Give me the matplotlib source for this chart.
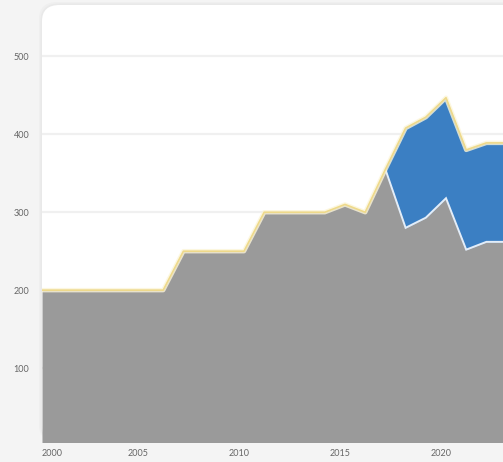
import matplotlib
matplotlib.use("Agg")
import matplotlib.pyplot as plt
import matplotlib.transforms as mtransforms
from matplotlib.patches import FancyBboxPatch
import numpy as np

# Yearly values
years = [2000, 2001, 2002, 2003, 2004, 2005, 2006, 2007, 2008, 2009, 2010, 2011,
         2012, 2013, 2014, 2015, 2016, 2017, 2018, 2019, 2020, 2021, 2022, 2023]
base = [200, 200, 200, 200, 200, 200, 200, 250, 250, 250, 250, 300,
        300, 300, 300, 310, 300, 355, 280, 293, 318, 252, 262, 262]
extra = [0, 0, 0, 0, 0, 0, 0, 0, 0, 0, 0, 0,
         0, 0, 0, 0, 0, 0, 128, 129, 129, 128, 127, 127]
y_ticks = [100, 200, 300, 400, 500]
x_ticks = [2000, 2005, 2010, 2015, 2020]

W, H = 503, 462
fig = plt.figure(figsize=(W / 100, H / 100), dpi=100)
fig.patch.set_facecolor("#f4f4f4")

# rounded white card behind the plot (bottom hidden under the fill)
L, T, B = 42, 5, 442
for grow, col in [(3, "#efefef"), (1.5, "#e9e9e9")]:
    sh = FancyBboxPatch(((L - grow) / W, 1 - B / H), (W + 40 - L) / W,
                        (B - T + grow) / H,
                        boxstyle="round,pad=0,rounding_size=0.037",
                        transform=fig.transFigure, facecolor=col,
                        edgecolor="none", zorder=-6)
    fig.patches.append(sh)
card = FancyBboxPatch((L / W, 1 - B / H), (W + 40 - L) / W, (B - T) / H,
                      boxstyle="round,pad=0,rounding_size=0.035",
                      transform=fig.transFigure, facecolor="white",
                      edgecolor="none", zorder=-5)
fig.patches.append(card)

ax = fig.add_axes([L / W, (H - B) / H, (W - L) / W, (B - T) / H])
ax.set_zorder(1)
ax.set_facecolor("none")
ax.set_xlim(2000, 2000 + (W - L) / 20.2)
ax.set_ylim(5.1, 566)

x = np.array(years, dtype=float)
b = np.array(base, dtype=float)
top = b + np.array(extra, dtype=float)

for v in y_ticks:
    ax.axhline(v, color="#f0f0f0", lw=1.6, zorder=1)

ax.fill_between(x, 0, b, color="#9a9a9a", lw=0, zorder=2)
ax.fill_between(x, b, top, where=top > b, interpolate=True,
                color="#3b7fc3", lw=0, zorder=2)

# boundary between the two layers where the upper one is present
m = x >= 2017
ax.plot(x[m], b[m], color="#e3edf8", lw=1.4, zorder=3, solid_joinstyle="miter")

# highlighted outline along the total
ax.plot(x, top, color="#fcf5d8", lw=3.2, alpha=0.8, zorder=3, solid_joinstyle="round")
ax.plot(x, top, color="#eed98a", lw=1.2, zorder=4, solid_joinstyle="round")

for s in ax.spines.values():
    s.set_visible(False)
ax.tick_params(length=0)

ax.set_yticks(y_ticks)
ax.set_yticklabels([str(v) for v in y_ticks], fontsize=6.5, color="#666666",
                   family="Lato")
ax.tick_params(axis="y", pad=9)

ax.set_xticks(x_ticks)
ax.set_xticklabels([str(v) for v in x_ticks], fontsize=6.5, color="#666666",
                   family="Lato")
ax.tick_params(axis="x", pad=5)
shift = mtransforms.ScaledTranslation(-5 / 100, 0, fig.dpi_scale_trans)
for i, lab in enumerate(ax.get_xticklabels()):
    if i == 0:
        lab.set_horizontalalignment("left")
    else:
        lab.set_transform(lab.get_transform() + shift)

fig.savefig("out.png", dpi=100)
